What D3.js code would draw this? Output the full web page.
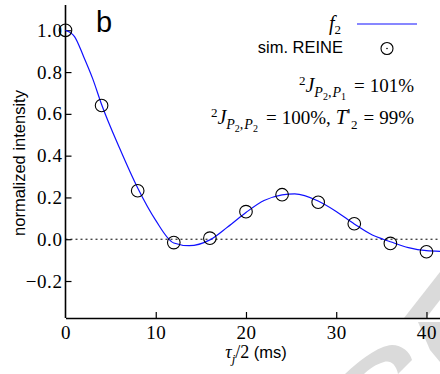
<!DOCTYPE html>
<html><head><meta charset="utf-8">
<script src="https://cdn.jsdelivr.net/npm/d3@7"></script>
<style>html,body{margin:0;padding:0;background:#fff;}svg{display:block;}</style>
</head><body>
<script>
// Simulated points (sim. REINE)
const simX = [0, 4, 8, 12, 16, 20, 24, 28, 32, 36, 40];
const simY = [1.0, 0.64, 0.232, -0.016, 0.005, 0.132, 0.213, 0.177, 0.074, -0.02, -0.06];
// Fitted curve f2
const fitX = [0, 1, 2, 3, 4, 6, 8, 10, 12, 13.7, 16, 18, 20, 22, 24, 25.4, 28, 30, 32, 34, 35.2, 36, 38, 40, 41.5];
const fitY = [1.0, 0.97, 0.875, 0.77, 0.645, 0.435, 0.245, 0.09, -0.018, -0.031, -0.003, 0.06, 0.128, 0.185, 0.212, 0.217, 0.183, 0.133, 0.073, 0.02, 0.0, -0.012, -0.04, -0.055, -0.058];
const xTicks = [0, 10, 20, 30, 40];
const yTicks = [-0.2, 0.0, 0.2, 0.4, 0.6, 0.8, 1.0];

const W = 440, H = 374;
const svg = d3.select("body").append("svg").attr("width", W).attr("height", H);

const x = d3.scaleLinear().domain([0, 41.5]).range([65.5, 440]);
const y = d3.scaleLinear().domain([-0.377, 1.121]).range([318, 5]);

// watermark (decorative, light grey)
const wm = svg.append("g").attr("fill", "#dadada");
wm.append("path").attr("d", "M404,318 L440,272 L440,300 L426,318 Z");
wm.append("path").attr("d", "M418,322 L440,322 L440,362 L430,350 Z");
wm.append("path").attr("d", "M345,374 C360,360 378,346 392,345 C402,345 410,352 412,360 L398,374 C396,364 390,360 384,362 C376,364 368,370 364,374 Z");

const serif = "'Liberation Serif','Times New Roman',serif";
const sans = "'Liberation Sans',Arial,sans-serif";

// zero dotted line
svg.append("line").attr("x1", x(0)).attr("x2", 440).attr("y1", y(0)).attr("y2", y(0))
  .attr("stroke", "#000").attr("stroke-width", 1).attr("stroke-dasharray", "2,3");

// axes
const xAxis = d3.axisBottom(x).tickValues(xTicks).tickSizeInner(-6).tickSizeOuter(0).tickPadding(11).tickFormat(d3.format("d"));
const gx = svg.append("g").attr("transform", `translate(0,${y.range()[0]})`).call(xAxis);
const yAxis = d3.axisLeft(y).tickValues(yTicks).tickSizeInner(-6).tickSizeOuter(0).tickPadding(3)
  .tickFormat(d => d3.format(".1f")(d).replace("-", "\u2212"));
const gy = svg.append("g").attr("transform", `translate(${x(0)},0)`).call(yAxis);
[gx, gy].forEach(g => {
  g.select(".domain").attr("stroke", "#000").attr("stroke-width", 1.6);
  g.selectAll(".tick line").attr("stroke", "#000").attr("stroke-width", 1.2);
  g.selectAll(".tick text").attr("font-family", serif).attr("font-size", 19).attr("letter-spacing", 0.6).attr("fill", "#000");
});
gy.select(".domain").attr("d", `M0,${y.range()[0]}V${y.range()[1]}`);
gx.selectAll(".tick text").attr("dy", "0.5em");
gx.selectAll(".tick").filter(d => d === 0).select("line").remove();

// curve
const line = d3.line().x((d, i) => x(fitX[i])).y((d, i) => y(fitY[i])).curve(d3.curveMonotoneX);
svg.append("path").datum(fitY).attr("d", line).attr("fill", "none").attr("stroke", "#1010ff").attr("stroke-width", 1.2);

// points
svg.append("g").selectAll("circle").data(simX).join("circle")
  .attr("cx", d => x(d)).attr("cy", (d, i) => y(simY[i])).attr("r", 6.3)
  .attr("fill", "none").attr("stroke", "#000").attr("stroke-width", 1.1);

// panel label
svg.append("text").attr("x", 96).attr("y", 32).attr("font-family", sans).attr("font-size", 29).text("b");

// rich text helper: segs = [text, size, baselineOffset, italic, family, dx]
function rich(xp, yp, segs, anchor) {
  const t = svg.append("text").attr("x", xp).attr("y", yp).attr("text-anchor", anchor || "end").attr("fill", "#000");
  let cur = 0;
  segs.forEach(s => {
    const [txt, size, off, it, fam, dx] = s;
    const ts = t.append("tspan").attr("dy", off - cur).attr("font-size", size)
      .attr("font-style", it ? "italic" : "normal").attr("font-family", fam || serif).text(txt);
    if (dx) ts.attr("dx", dx);
    cur = off;
  });
  return t;
}

// legend
rich(341, 30, [["f", 20, 0, true], ["2", 13, 4, false]]);
svg.append("line").attr("x1", 357).attr("x2", 417).attr("y1", 24).attr("y2", 24).attr("stroke", "#1010ff").attr("stroke-width", 1.2);
svg.append("text").attr("x", 343).attr("y", 53).attr("text-anchor", "end").attr("font-family", sans).attr("font-size", 16.5).text("sim. REINE");
svg.append("circle").attr("cx", 387).attr("cy", 48.5).attr("r", 6).attr("fill", "none").attr("stroke", "#000").attr("stroke-width", 1.1);
svg.append("circle").attr("cx", 387).attr("cy", 48.5).attr("r", 0.8).attr("fill", "#000");

// annotations
rich(414, 92, [
  ["2", 13, -7.5, false], ["J", 20, 0, true], ["P", 14, 4.5, true], ["2", 10, 7.5, false], [",", 14, 4.5, true], ["P", 14, 4.5, true, null, 1], ["1", 10, 7.5, false],
  ["=", 19, 0, false, null, 8], ["101%", 19, 0, false, null, 5]
]);
rich(414, 124, [
  ["2", 13, -7.5, false], ["J", 20, 0, true], ["P", 14, 4.5, true], ["2", 10, 7.5, false], [",", 14, 4.5, true], ["P", 14, 4.5, true, null, 1], ["2", 10, 7.5, false],
  ["=", 19, 0, false, null, 8], ["100%,", 19, 0, false, null, 5], ["T", 20, 0, true, null, 5], ["'", 15, -3, false, "'DejaVu Sans',sans-serif", 0], ["2", 13, 4.5, false, null, 0],
  ["=", 19, 0, false, null, 6], ["99%", 19, 0, false, null, 5]
]);

// axis titles
rich(256, 358, [["\u03C4", 18, 0, true], ["j", 13, 4.5, true], ["/2 ", 18, 0, false], ["(ms)", 16.5, 0, false, sans]], "middle");
svg.append("text").attr("transform", "translate(25,163) rotate(-90)").attr("text-anchor", "middle")
  .attr("font-family", sans).attr("font-size", 16.5).text("normalized intensity");
</script>
</body></html>
